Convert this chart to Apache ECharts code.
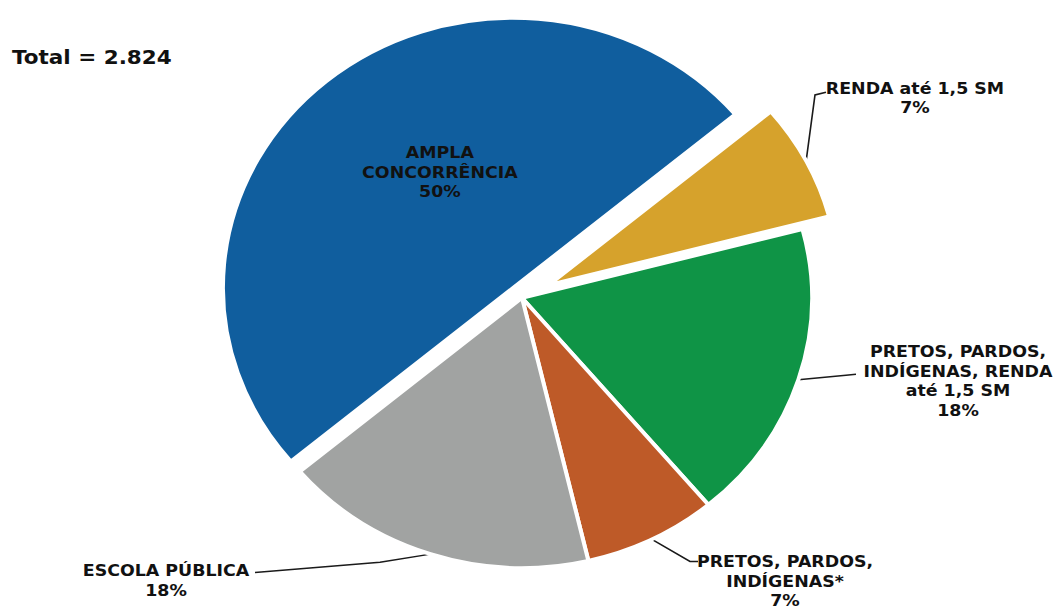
<!DOCTYPE html>
<html><head><meta charset="utf-8">
<script src="https://cdn.jsdelivr.net/npm/echarts@6/dist/echarts.min.js"></script>
<style>
html,body{margin:0;padding:0;background:#fff;overflow:hidden;}
#wrap{width:1060px;height:609px;overflow:hidden;position:relative;}
#chart{width:1060px;height:654px;transform:scaleY(0.931);transform-origin:0 0;}
</style></head><body>
<div id="wrap"><div id="chart"></div></div>
<script>
// ---- data ----
const titleText = 'Total = 2.824';
const categories = [
  'AMPLA\nCONCORRÊNCIA',
  'RENDA até 1,5 SM',
  'PRETOS, PARDOS,\nINDÍGENAS, RENDA\naté 1,5 SM',
  'PRETOS, PARDOS,\nINDÍGENAS*',
  'ESCOLA PÚBLICA'
];
const values = [1412, 198, 508, 210, 496];
const colors = ['#105E9E', '#D6A22C', '#0F9446', '#BE5A28', '#A1A3A2'];

// ---- layout (positions, not data) ----
const FONT = 'DejaVu Sans';
const CENTER = [522, 320];
const RADIUS = 290;
const START = 220;
const labelPlace = {
  1: {x: 915, y: 105, bend: [815, 102], end: [826, 99]},
  2: {x: 958, y: 409, bend: [846, 403], end: [856, 402]},
  3: {x: 785, y: 624, bend: [690, 603], end: [698, 603]},
  4: {x: 166, y: 623, bend: [380, 604], end: [255, 615]}
};

// slice pulled out from the centre along its own mid angle (explode)
const sum = values.reduce((a, b) => a + b, 0);
function explodedCenter(i, dist) {
  const before = values.slice(0, i).reduce((a, b) => a + b, 0);
  const ang = (START - 360 * (before + values[i] / 2) / sum) * Math.PI / 180;
  return [CENTER[0] + dist * Math.cos(ang), CENTER[1] - dist * Math.sin(ang)];
}

const fmt = p => p.name + '\n' + Math.round(p.percent) + '%';
const hidden = {
  itemStyle: {color: 'rgba(0,0,0,0)', borderWidth: 0},
  label: {show: false},
  labelLine: {show: false}
};

function buildData(visibleIdx) {
  return categories.map((c, i) => {
    const base = {name: c, value: values[i]};
    if (visibleIdx.indexOf(i) < 0) return Object.assign(base, hidden);
    base.itemStyle = {color: colors[i], borderColor: '#fff', borderWidth: 4};
    return base;
  });
}

const labelStyle = {
  fontFamily: FONT, fontWeight: 'bold', fontSize: 17.4, lineHeight: 21, color: '#111'
};

const outsideLayout = function (p) {
  const cfg = labelPlace[p.dataIndex];
  if (!cfg) return {};
  const a = p.labelLinePoints ? p.labelLinePoints[0] : cfg.bend;
  return {
    x: cfg.x, y: cfg.y, align: 'center', verticalAlign: 'middle',
    labelLinePoints: [a, cfg.bend, cfg.end]
  };
};

function pieSeries(center, visibleIdx, inside) {
  const s = {
    type: 'pie', center: center, radius: RADIUS, startAngle: START, clockwise: true,
    avoidLabelOverlap: false, silent: true,
    emphasis: {disabled: true},
    data: buildData(visibleIdx)
  };
  if (inside) {
    s.label = Object.assign({show: true, position: 'inside', formatter: fmt, align: 'center'}, labelStyle);
    s.labelLine = {show: false};
    s.labelLayout = function () { return {dx: 22, dy: -11}; };
  } else {
    s.label = Object.assign({show: true, position: 'outside', formatter: fmt, align: 'center'}, labelStyle);
    s.labelLine = {show: true, length: 10, length2: 10, smooth: false, lineStyle: {color: '#1a1a1a', width: 1.6}};
    s.labelLayout = outsideLayout;
  }
  return s;
}

const chart = echarts.init(document.getElementById('chart'), null, {renderer: 'svg'});
chart.setOption({
  animation: false,
  backgroundColor: '#fff',
  title: {
    text: titleText, left: 12, top: 48, padding: 0,
    textStyle: {fontFamily: FONT, fontWeight: 'bold', fontSize: 21.5, lineHeight: 26, color: '#111'}
  },
  series: [
    pieSeries(explodedCenter(0, 14), [0], true),
    pieSeries(explodedCenter(1, 30), [1], false),
    pieSeries(CENTER, [2, 3, 4], false)
  ]
});
</script>
</body></html>
